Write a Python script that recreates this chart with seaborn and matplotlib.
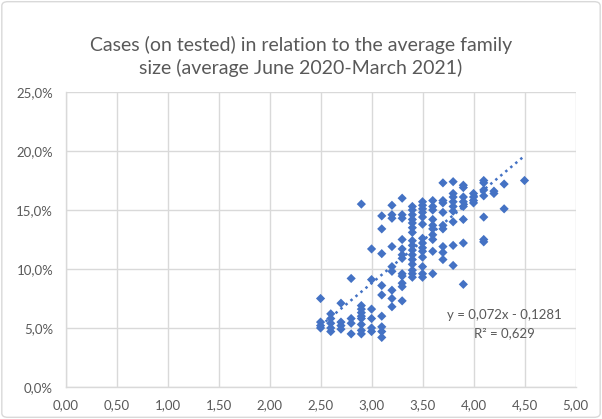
import numpy as np
import pandas as pd
import matplotlib
matplotlib.use("Agg")
import matplotlib.pyplot as plt
from matplotlib.ticker import FuncFormatter, MultipleLocator
from matplotlib.patches import FancyBboxPatch
import seaborn as sns

# average family size (x) and share of positive cases on tested (y, %)
family_size = (
    [2.5] * 4 + [2.6] * 5 + [2.7] * 4 + [2.8] * 4 + [2.9] * 9 + [3.0] * 6
    + [3.1] * 9 + [3.2] * 9 + [3.3] * 12 + [3.4] * 16 + [3.5] * 14
    + [3.6] * 10 + [3.7] * 9 + [3.8] * 9 + [3.9] * 8 + [4.0] * 4
    + [4.1] * 7 + [4.2] * 2 + [4.3] * 2 + [4.5] * 1
)
cases_pct = [
    7.5, 5.5, 5.2, 5.0,
    6.2, 5.8, 5.4, 5.0, 4.7,
    7.1, 5.5, 5.2, 4.9,
    9.2, 5.8, 5.4, 4.5,
    15.5, 6.9, 6.6, 6.3, 6.0, 5.8, 5.3, 4.8, 4.5,
    11.7, 9.1, 6.6, 5.8, 5.0, 4.7,
    14.5, 13.4, 11.3, 8.6, 7.8, 6.0, 5.1, 4.7, 4.2,
    15.4, 14.6, 14.3, 11.9, 10.2, 9.8, 8.2, 7.5, 6.8,
    16.0, 14.6, 14.3, 12.5, 11.7, 11.2, 10.9, 9.6, 9.4, 8.8, 8.5, 7.3,
    15.3, 15.0, 14.6, 14.2, 13.9, 13.5, 13.1, 12.4, 12.0, 11.6, 11.2, 10.8, 10.4, 9.9, 9.6, 9.3,
    15.7, 15.4, 15.1, 14.8, 14.4, 13.8, 12.6, 12.2, 11.8, 11.5, 11.0, 10.2, 9.6, 9.3,
    15.8, 15.3, 15.0, 14.2, 13.7, 13.4, 12.9, 12.5, 11.5, 9.6,
    17.3, 15.8, 15.6, 14.8, 13.7, 13.4, 11.9, 11.4, 10.8,
    17.4, 16.4, 16.1, 15.7, 15.3, 14.9, 14.0, 12.0, 10.3,
    17.1, 16.9, 16.1, 15.7, 15.3, 14.2, 12.2, 8.7,
    16.4, 16.1, 15.8, 15.6,
    17.5, 17.3, 16.7, 16.2, 14.4, 12.5, 12.3,
    16.6, 16.4,
    17.2, 15.1,
    17.5,
]

# linear trendline as reported on the chart
slope = 0.072
intercept = -0.1281
r_squared = 0.629

df = pd.DataFrame({"size": family_size, "cases": np.array(cases_pct) / 100})
xs = np.array([df["size"].min(), df["size"].max()])
trend = pd.DataFrame({"size": xs, "cases": slope * xs + intercept})

sns.set_style("white")
plt.rcParams["font.family"] = ["Lato", "DejaVu Sans"]

grey = "#595959"
blue = "#4472C4"

fig = plt.figure(figsize=(6.02, 4.19), dpi=100)
ax = fig.add_axes([0.109, 0.0764, 0.847, 0.704])

sns.lineplot(data=trend, x="size", y="cases", ax=ax, color=blue,
             linestyle=(0, (1, 1.6)), linewidth=1.8, zorder=2)
sns.scatterplot(data=df, x="size", y="cases", ax=ax, marker="D", s=22,
                color=blue, edgecolor="none", zorder=3)

ax.set_xlim(0, 5)
ax.set_ylim(0, 0.25)
ax.xaxis.set_major_locator(MultipleLocator(0.5))
ax.yaxis.set_major_locator(MultipleLocator(0.05))
ax.xaxis.set_major_formatter(FuncFormatter(lambda v, p: f"{v:.2f}".replace(".", ",")))
ax.yaxis.set_major_formatter(FuncFormatter(lambda v, p: f"{v*100:.1f}%".replace(".", ",")))
ax.grid(True, color="#d9d9d9", linewidth=1)
ax.set_axisbelow(True)
for side in ["top", "right"]:
    ax.spines[side].set_visible(False)
for side in ["left", "bottom"]:
    ax.spines[side].set_color("#d9d9d9")
    ax.spines[side].set_linewidth(1)
ax.tick_params(axis="both", colors=grey, labelsize=9.5, length=4, width=1,
               direction="out", color="#d9d9d9", pad=5)
ax.set_xlabel("")
ax.set_ylabel("")

ax.text(4.30, 0.061, "y = 0,072x - 0,1281", ha="center", va="center",
        color=grey, fontsize=9.5)
ax.text(4.30, 0.046, f"R² = {r_squared:.3f}".replace(".", ","), ha="center",
        va="center", color=grey, fontsize=9.5)

fig.text(0.5, 0.865, "Cases (on tested) in relation to the average family\nsize (average June 2020-March 2021)",
         ha="center", va="center", color=grey, fontsize=14, linespacing=1.35)

fig.patches.append(FancyBboxPatch((0.003, 0.004), 0.994, 0.992, boxstyle="round,pad=0,rounding_size=0.01",
                                  transform=fig.transFigure, facecolor="none",
                                  edgecolor="#d9d9d9", linewidth=1))

fig.savefig("out.png", dpi=100, facecolor="white")
